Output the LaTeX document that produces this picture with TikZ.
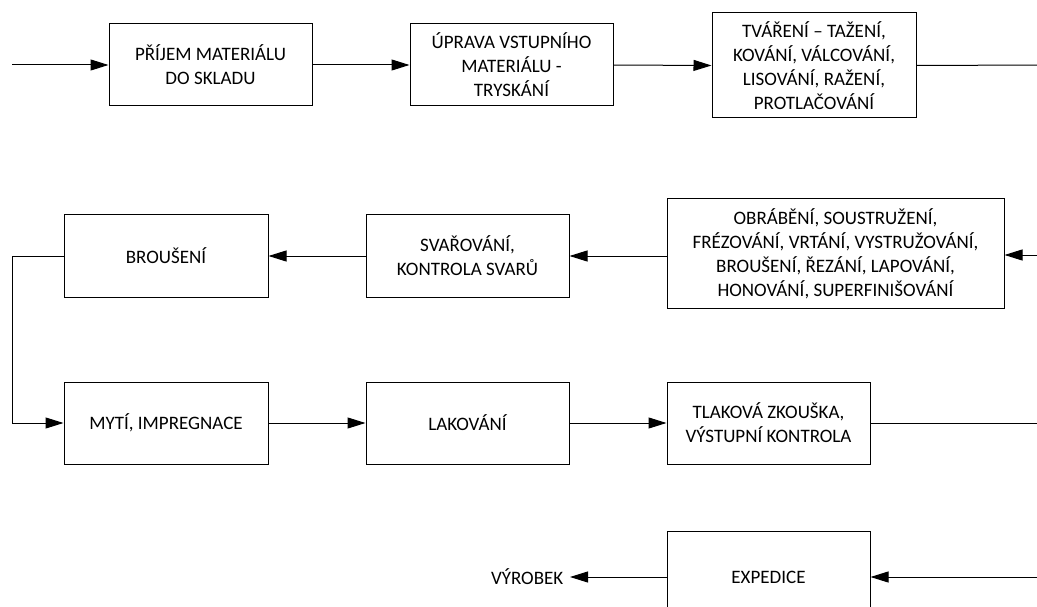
\documentclass[tikz,border=0pt]{standalone}
\usepackage{fontspec}
\setmainfont{Carlito}
\usetikzlibrary{arrows.meta}
\begin{document}
\begin{tikzpicture}[x=1pt,y=-1pt,
  box/.style={draw, line width=1pt, align=center, inner sep=2pt,
    font=\fontsize{19}{24}\selectfont},
  conn/.style={line width=1pt},
  arr/.style={conn, -{Triangle[length=18pt,width=11pt]}},
  lbl/.style={font=\fontsize{19}{24}\selectfont, inner xsep=6.5pt, inner ysep=0pt}]
\useasboundingbox (0,0) rectangle (1037,607);
\clip (0,0) rectangle (1037,607);
% row 1
\node[box, minimum width=203pt, minimum height=82pt] (b1) at (210.5,65) {PŘÍJEM MATERIÁLU\\DO SKLADU};
\node[box, minimum width=203pt, minimum height=82pt] (b2) at (511.5,65) {ÚPRAVA VSTUPNÍHO\\MATERIÁLU -\\TRYSKÁNÍ};
\node[box, minimum width=204pt, minimum height=105pt] (b3) at (814,65.5) {TVÁŘENÍ – TAŽENÍ,\\KOVÁNÍ, VÁLCOVÁNÍ,\\LISOVÁNÍ, RAŽENÍ,\\PROTLAČOVÁNÍ};
% row 2
\node[box, minimum width=204pt, minimum height=82pt] (b4) at (166,256) {BROUŠENÍ};
\node[box, minimum width=203pt, minimum height=82pt] (b5) at (467.5,256) {SVAŘOVÁNÍ,\\KONTROLA SVARŮ};
\node[box, minimum width=337pt, minimum height=109pt] (b6) at (835.5,253.5) {OBRÁBĚNÍ, SOUSTRUŽENÍ,\\FRÉZOVÁNÍ, VRTÁNÍ, VYSTRUŽOVÁNÍ,\\BROUŠENÍ, ŘEZÁNÍ, LAPOVÁNÍ,\\HONOVÁNÍ, SUPERFINIŠOVÁNÍ};
% row 3
\node[box, minimum width=204pt, minimum height=82pt] (b7) at (166,423) {MYTÍ, IMPREGNACE};
\node[box, minimum width=203pt, minimum height=82pt] (b8) at (467.5,423) {LAKOVÁNÍ};
\node[box, minimum width=203pt, minimum height=82pt] (b9) at (768.5,423) {TLAKOVÁ ZKOUŠKA,\\VÝSTUPNÍ KONTROLA};
% row 4
\node[box, minimum width=203pt, minimum height=92pt] (b10) at (768.5,577) {EXPEDICE};
\node[lbl, anchor=east] (out) at (570,577) {VÝROBEK};
% free ends
\coordinate (in1) at (12,65);
\coordinate (r1) at (1040,65);
\coordinate (r2) at (1040,255);
\coordinate (r3) at (1040,423);
\coordinate (r4) at (1040,577);
\coordinate (lc) at (12,256);
% connectors
\draw[arr] (in1) -- (b1.west);
\draw[arr] (b1.east) -- (b2.west);
\draw[arr] (b2.east) -- (b3.west);
\draw[conn] (b3.east) -- (r1);
\draw[arr] (r2) -- (b6.east |- r2);
\draw[arr] (b6.west |- b5) -- (b5.east);
\draw[arr] (b5.west) -- (b4.east);
\draw[arr] (b4.west) -- (lc) |- (b7.west);
\draw[arr] (b7.east) -- (b8.west);
\draw[arr] (b8.east) -- (b9.west);
\draw[conn] (b9.east) -- (r3);
\draw[arr] (r4) -- (b10.east);
\draw[arr] (b10.west) -- (out.east);
\end{tikzpicture}
\end{document}
